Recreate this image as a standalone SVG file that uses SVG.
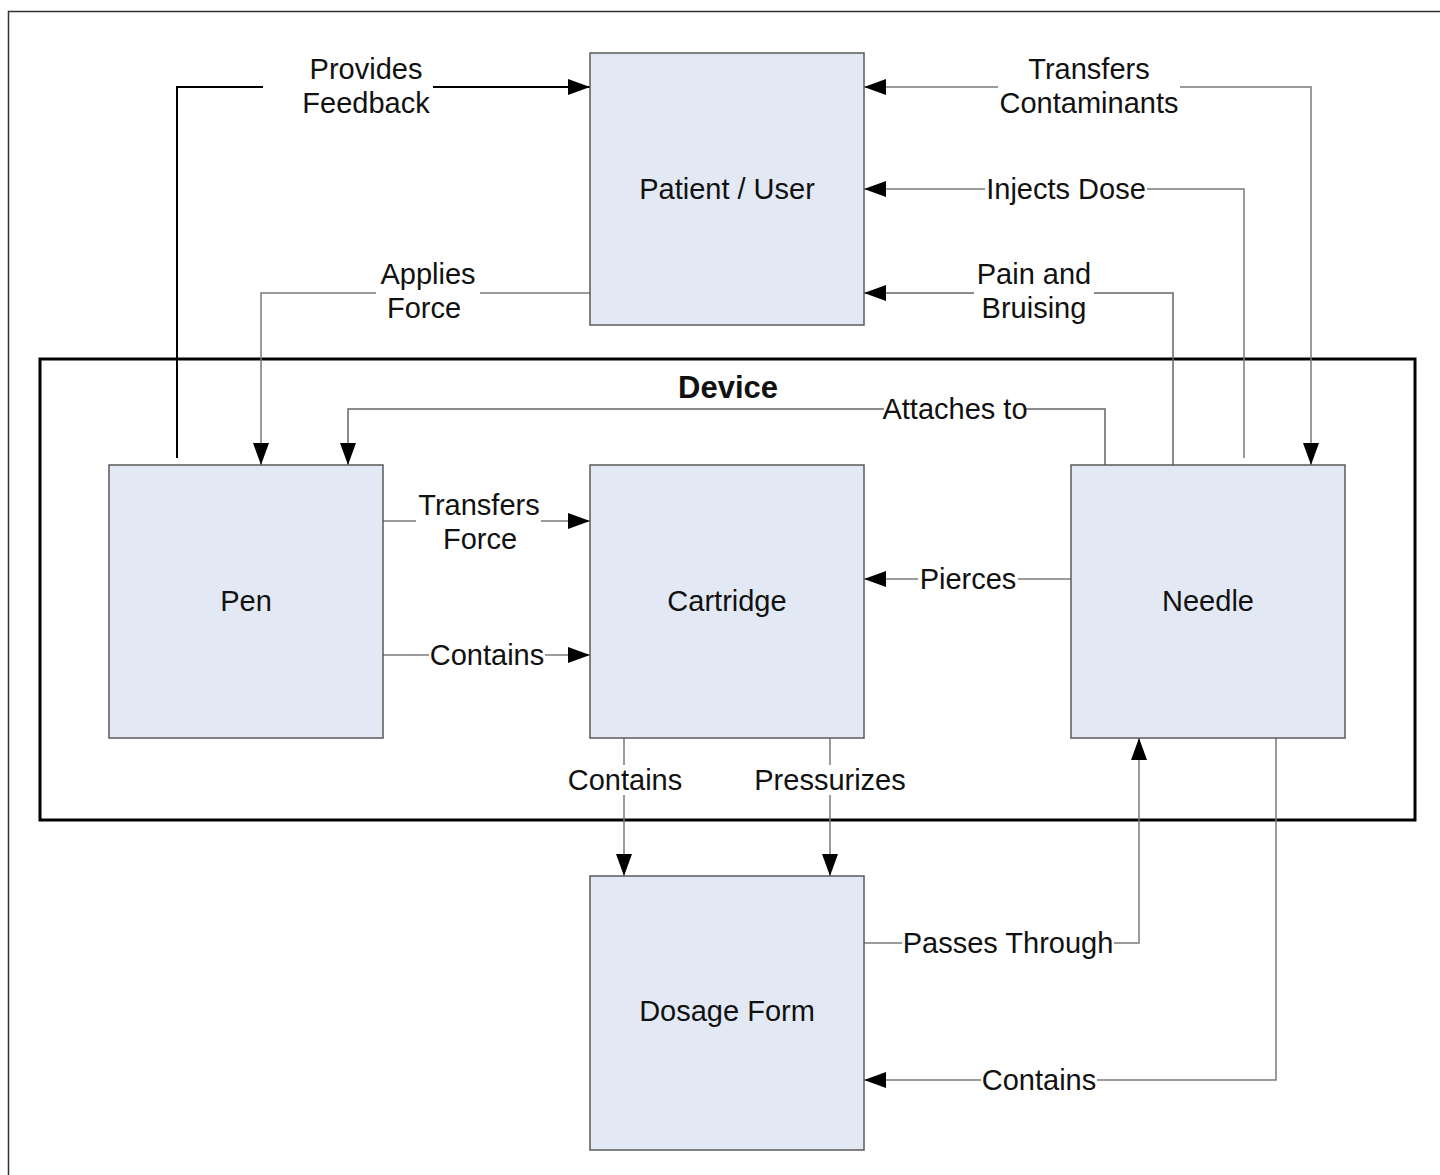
<svg xmlns="http://www.w3.org/2000/svg" width="1440" height="1175" viewBox="0 0 1440 1175">
<style>
.node{fill:#e3e9f4;stroke:#5a5a5a;stroke-width:1.5}
.t{font-family:"Liberation Sans",Arial,sans-serif;font-size:29px;fill:#111;text-anchor:middle}
.c{fill:none;stroke:#7a7a7a;stroke-width:1.5;marker-end:url(#ah)}
.bg{fill:#fff}
</style>
<defs>
<marker id="ah" markerUnits="userSpaceOnUse" markerWidth="24" markerHeight="18" refX="22" refY="8" orient="auto">
<path d="M0,0 L22,8 L0,16 z" fill="#000"/>
</marker>
<marker id="as" markerUnits="userSpaceOnUse" markerWidth="24" markerHeight="18" refX="0" refY="8" orient="auto">
<path d="M22,0 L0,8 L22,16 z" fill="#000"/>
</marker>
</defs>
<rect width="1440" height="1175" fill="#fff"/>
<rect x="8.5" y="11.5" width="1450" height="1180" fill="none" stroke="#333" stroke-width="1.5"/>
<g id="device">
<rect x="40" y="359" width="1375" height="461" fill="none" stroke="#000" stroke-width="3"/>
<text x="728" y="398" class="t" style="font-weight:bold;font-size:31px">Device</text>
</g>
<g id="connectors">
<path class="c" d="M177,458 V87 H590" style="stroke:#000;stroke-width:2"/>
<path class="c" d="M590,293 H261 V465"/>
<path class="c" d="M864,87 H1311 V465" style="marker-start:url(#as)"/>
<path class="c" d="M1244,458 V189 H864"/>
<path class="c" d="M1173,465 V293 H864" style="stroke:#666"/>
<path class="c" d="M1105,465 V409 H348 V465" style="stroke:#666"/>
<path class="c" d="M383,521 H590"/>
<path class="c" d="M383,655 H590"/>
<path class="c" d="M1071,579 H864"/>
<path class="c" d="M624,738 V876"/>
<path class="c" d="M830,738 V876"/>
<path class="c" d="M864,943 H1139 V738"/>
<path class="c" d="M1276,738 V1080 H864"/>
<g id="labels">
<rect class="bg" x="263" y="52" width="170" height="68"/>
<text class="t" x="366" y="79">Provides</text><text class="t" x="366" y="113">Feedback</text>
<rect class="bg" x="376" y="257" width="104" height="68"/>
<text class="t" x="428" y="284">Applies</text><text class="t" x="424" y="318">Force</text>
<rect class="bg" x="998" y="52" width="182" height="68"/>
<text class="t" x="1089" y="79">Transfers</text><text class="t" x="1089" y="113">Contaminants</text>
<rect class="bg" x="985" y="175" width="162" height="28"/>
<text class="t" x="1066" y="199">Injects Dose</text>
<rect class="bg" x="974" y="257" width="120" height="68"/>
<text class="t" x="1034" y="284">Pain and</text><text class="t" x="1034" y="318">Bruising</text>
<rect class="bg" x="884" y="395" width="142" height="28"/>
<text class="t" x="955" y="419">Attaches to</text>
<rect class="bg" x="416" y="488" width="125" height="68"/>
<text class="t" x="479" y="515">Transfers</text><text class="t" x="480" y="549">Force</text>
<rect class="bg" x="429" y="641" width="116" height="28"/>
<text class="t" x="487" y="665">Contains</text>
<rect class="bg" x="918" y="565" width="100" height="28"/>
<text class="t" x="968" y="589">Pierces</text>
<rect class="bg" x="566" y="765" width="118" height="30"/>
<text class="t" x="625" y="790">Contains</text>
<rect class="bg" x="753" y="765" width="155" height="30"/>
<text class="t" x="830" y="790">Pressurizes</text>
<rect class="bg" x="902" y="929" width="212" height="28"/>
<text class="t" x="1008" y="953">Passes Through</text>
<rect class="bg" x="981" y="1066" width="116" height="28"/>
<text class="t" x="1039" y="1090">Contains</text>
</g>
</g>
<g id="patient"><rect class="node" x="590" y="53" width="274" height="272"/><text class="t" x="727" y="199">Patient / User</text></g>
<g id="pen"><rect class="node" x="109" y="465" width="274" height="273"/><text class="t" x="246" y="611">Pen</text></g>
<g id="cartridge"><rect class="node" x="590" y="465" width="274" height="273"/><text class="t" x="727" y="611">Cartridge</text></g>
<g id="needle"><rect class="node" x="1071" y="465" width="274" height="273"/><text class="t" x="1208" y="611">Needle</text></g>
<g id="dosage"><rect class="node" x="590" y="876" width="274" height="274"/><text class="t" x="727" y="1021">Dosage Form</text></g>
</svg>
